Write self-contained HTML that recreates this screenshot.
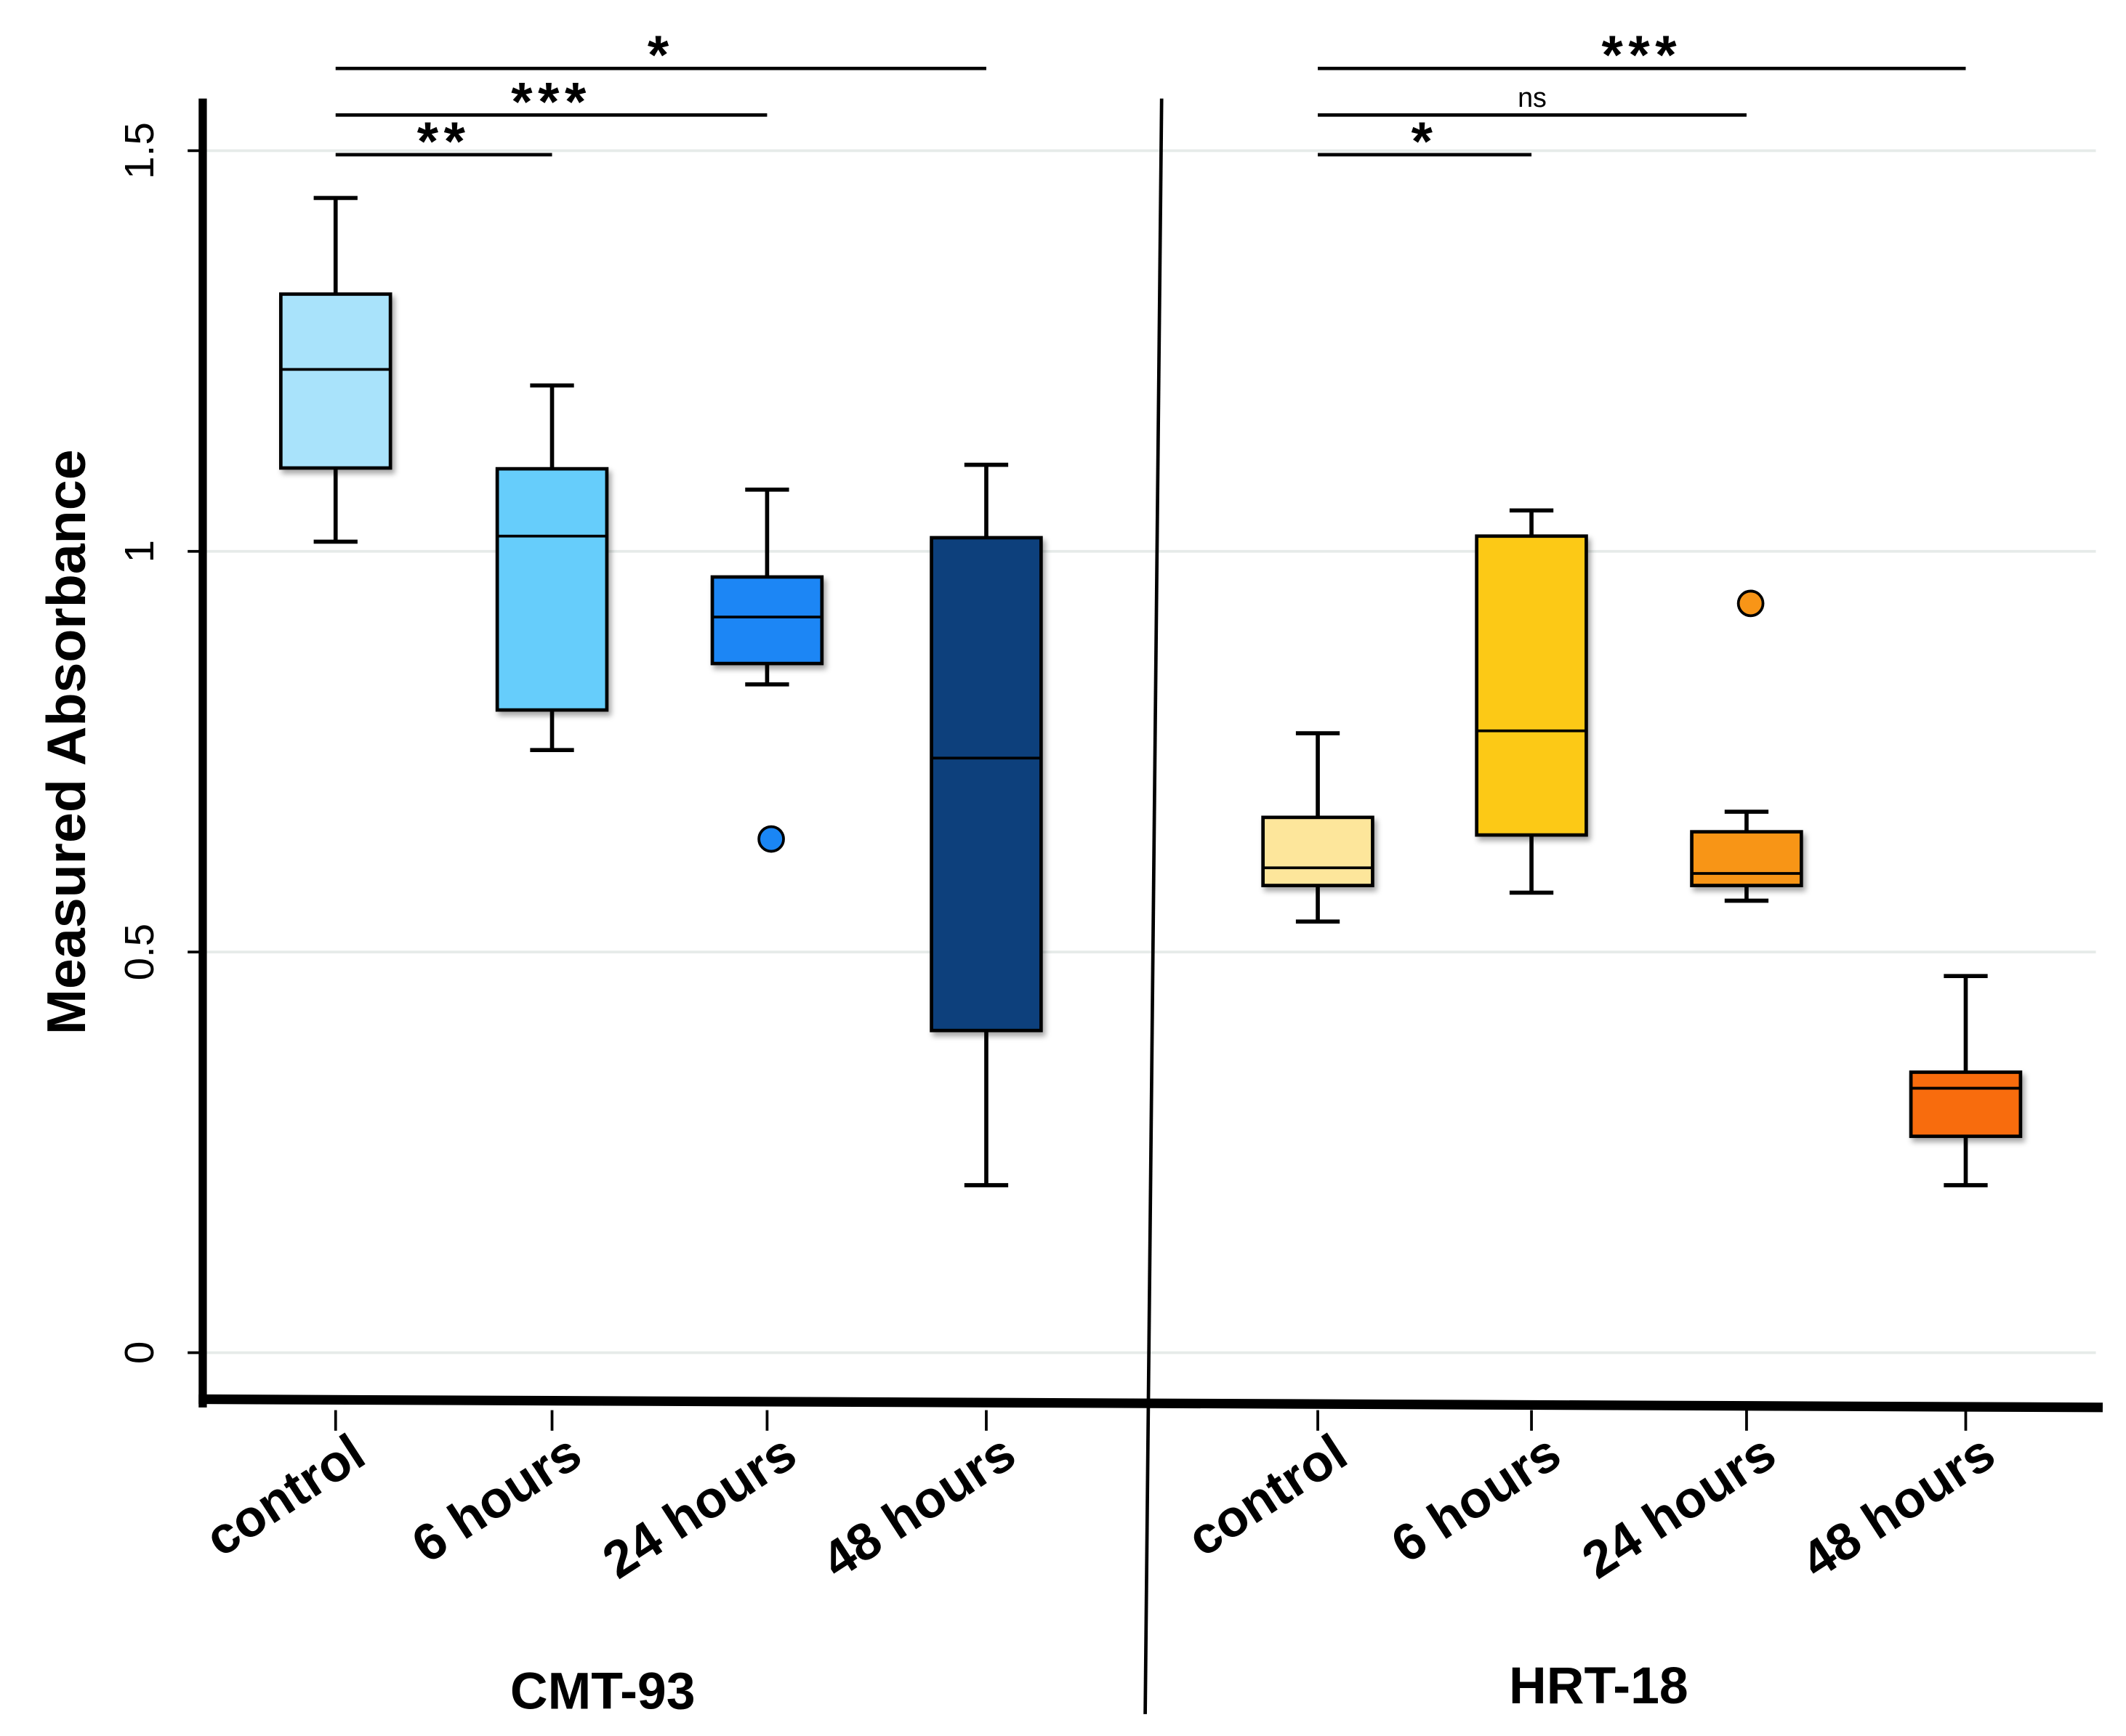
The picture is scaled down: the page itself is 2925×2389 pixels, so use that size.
<!DOCTYPE html>
<html><head><meta charset="utf-8"><style>
html,body{margin:0;padding:0;background:#fff;}
svg{display:block;font-family:"Liberation Sans",Arial,sans-serif;}
</style></head><body>
<svg id="chart" width="2925" height="2389" viewBox="0 0 1552 1268" preserveAspectRatio="none" xmlns="http://www.w3.org/2000/svg">
<defs><filter id="sh" x="-20%" y="-20%" width="150%" height="150%"><feDropShadow dx="2" dy="3" stdDeviation="2" flood-color="#000" flood-opacity="0.35"/></filter></defs>
<g id="grid"></g>
<g id="marks"></g>
<g id="axes"></g>
<text transform="translate(62,542) rotate(-90)" text-anchor="middle" font-weight="bold" font-size="40">Measured Absorbance</text>
<text x="440" y="1248" text-anchor="middle" font-weight="bold" font-size="38">CMT-93</text>
<text x="1167" y="1244" text-anchor="middle" font-weight="bold" font-size="38">HRT-18</text>
</svg>
<script>
const categories = ["control","6 hours","24 hours","48 hours","control","6 hours","24 hours","48 hours"];
const groups = ["CMT-93","CMT-93","CMT-93","CMT-93","HRT-18","HRT-18","HRT-18","HRT-18"];
const whiskerHigh = [1.441,1.207,1.077,1.108,0.773,1.051,0.675,0.470];
const q3 = [1.321,1.103,0.968,1.017,0.668,1.019,0.650,0.350];
const medians = [1.227,1.019,0.918,0.742,0.605,0.776,0.598,0.330];
const q1 = [1.104,0.802,0.860,0.402,0.583,0.646,0.583,0.270];
const whiskerLow = [1.012,0.752,0.834,0.209,0.538,0.574,0.564,0.209];
const outliers = [[],[],[0.641],[],[],[],[0.935],[]];
const colors = ["#a9e3fb","#66cdfb","#1a86f5","#0b3f7b","#fde69b","#fcc915","#f89517","#f86c0c"];
const yTicks = [0,0.5,1,1.5];
const yTickLabels = ["0","0.5","1","1.5"];
const sigFrom = [0,0,0,4,4,4];
const sigTo = [1,2,3,5,6,7];
const sigLevel = [0,1,2,0,1,2];
const sigLabels = ["**","***","*","*","ns","***"];

const NS="http://www.w3.org/2000/svg";
const catX=[245,403,560,720,962,1118,1275,1435];
function xPos(i){return catX[i];}
function yPos(v){return 988-v*585.3;}
function mk(p,tag,attrs){const e=document.createElementNS(NS,tag);for(const k in attrs)e.setAttribute(k,attrs[k]);p.appendChild(e);return e;}
const grid=document.getElementById('grid'),marks=document.getElementById('marks'),axes=document.getElementById('axes');
yTicks.forEach((t,i)=>{
  const l=mk(grid,'line',{x1:150,x2:1530,y1:yPos(t),y2:yPos(t),stroke:'#e6ebe9','stroke-width':2});
  
  
  const tk=mk(axes,'line',{x1:137,x2:150,y1:yPos(t),y2:yPos(t),stroke:'#000','stroke-width':2});
  
  
  const tx=mk(axes,'text',{transform:`translate(112,${yPos(t)}) rotate(-90)`,'text-anchor':'middle','font-size':30});
  tx.textContent=yTickLabels[i];
  
  
});
const hw=40;
categories.forEach((c,i)=>{
  const x=xPos(i);
  const g=mk(marks,'g',{});
  
  
  mk(g,'line',{x1:x,x2:x,y1:yPos(whiskerHigh[i]),y2:yPos(q3[i]),stroke:'#000','stroke-width':3});
  mk(g,'line',{x1:x,x2:x,y1:yPos(q1[i]),y2:yPos(whiskerLow[i]),stroke:'#000','stroke-width':3});
  mk(g,'line',{x1:x-16,x2:x+16,y1:yPos(whiskerHigh[i]),y2:yPos(whiskerHigh[i]),stroke:'#000','stroke-width':3});
  mk(g,'line',{x1:x-16,x2:x+16,y1:yPos(whiskerLow[i]),y2:yPos(whiskerLow[i]),stroke:'#000','stroke-width':3});
  mk(g,'rect',{x:x-hw,y:yPos(q3[i]),width:2*hw,height:yPos(q1[i])-yPos(q3[i]),fill:colors[i],stroke:'#000','stroke-width':2.5,filter:'url(#sh)'});
  mk(g,'line',{x1:x-hw,x2:x+hw,y1:yPos(medians[i]),y2:yPos(medians[i]),stroke:'#000','stroke-width':2});
  outliers[i].forEach(o=>{
    const c2=mk(g,'circle',{cx:x+3,cy:yPos(o),r:9,fill:colors[i],stroke:'#000','stroke-width':2});
    
    
  });
  const tk=mk(axes,'line',{x1:x,x2:x,y1:1030,y2:1045,stroke:'#000','stroke-width':2});
  
  
  const tx=mk(axes,'text',{transform:`translate(${x+24},${1068}) rotate(-33)`,'text-anchor':'end','font-size':38,'font-weight':'bold'});
  tx.textContent=c;
  
  
});
const levelY=[113,84,50];
sigFrom.forEach((f,i)=>{
  const y=levelY[sigLevel[i]];
  const l=mk(axes,'line',{x1:xPos(f),x2:xPos(sigTo[i]),y1:y,y2:y,stroke:'#000','stroke-width':2.5});
  
  
  const isNs=sigLabels[i]==='ns';
  const t=mk(axes,'text',{x:(xPos(f)+xPos(sigTo[i]))/2,y:isNs?y-6:y+4,'text-anchor':'middle','font-size':isNs?20:40,'font-weight':isNs?'normal':'bold','letter-spacing':isNs?0:4});
  t.textContent=sigLabels[i];
  
  
});
let a=mk(axes,'line',{x1:148,x2:148,y1:72,y2:1028,stroke:'#000','stroke-width':6});


a=mk(axes,'line',{x1:145,x2:1535,y1:1022,y2:1028,stroke:'#000','stroke-width':7});


a=mk(axes,'line',{x1:848,x2:836,y1:72,y2:1252,stroke:'#000','stroke-width':2.5});


</script>
</body></html>
